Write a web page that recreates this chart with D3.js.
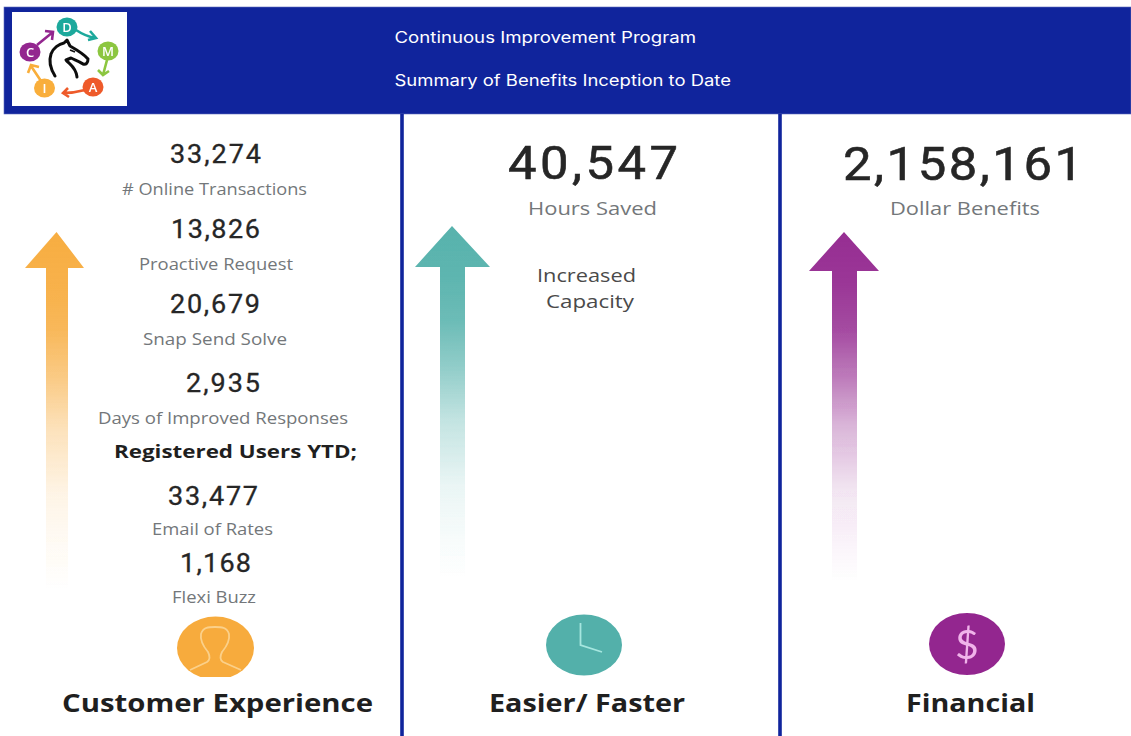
<!DOCTYPE html>
<html>
<head>
<meta charset="utf-8">
<script src="https://cdn.jsdelivr.net/npm/d3@7"></script>
<style>
  html, body { margin: 0; padding: 0; background: #fff; overflow: hidden; }
  text { font-family: "Open Sans", sans-serif; }
  .num { font-family: Roboto, sans-serif; font-weight: 400; fill: #262626; stroke: #262626; stroke-width: 0.35px; }
  .lbl { fill: #73777a; }
  .head { font-family: Inter, sans-serif; fill: #fff; }
  .pillar { font-weight: 700; fill: #1f1f1f; }
</style>
</head>
<body>
<svg id="chart" width="1131" height="736"></svg>
<script>
// Values
const titleLines = ['Continuous Improvement Program', 'Summary of Benefits Inception to Date'];
const customerValues = [33274, 13826, 20679, 2935, 33477, 1168];
const customerLabels = ['# Online Transactions', 'Proactive Request', 'Snap Send Solve', 'Days of Improved Responses', 'Email of Rates', 'Flexi Buzz'];
const registeredLabel = 'Registered Users YTD;';
const hoursValue = 40547;
const hoursLabel = 'Hours Saved';
const capacityLines = ['Increased', 'Capacity'];
const dollarValue = 2158161;
const dollarLabel = 'Dollar Benefits';
const pillars = ['Customer Experience', 'Easier/ Faster', 'Financial'];
const logoLetters = ['D', 'M', 'A', 'I', 'C'];

const NAVY = '#10249c';
const ORANGE = '#f7ab3c', TEAL = '#52b0aa', PURPLE = '#93288f';
const fmt = d3.format(',');
const svg = d3.select('#chart');
const defs = svg.append('defs');

defs.append('filter').attr('id', 'soft').append('feGaussianBlur').attr('stdDeviation', 0.5);

// Places a text so it spans x0..x1; the reference is stretched horizontally
function spanText(cls, str, x0, x1, y, size) {
  return svg.append('text').attr('class', cls)
    .attr('x', x0).attr('y', y).style('font-size', size + 'px')
    .attr('textLength', x1 - x0).attr('lengthAdjust', 'spacingAndGlyphs')
    .text(str);
}

// Big numbers: glyphs widened a little, the rest of the span goes to letter gaps
function numText(str, x0, x1, y, size, weight) {
  const widen = 1.08;
  return svg.append('text').attr('class', 'num')
    .attr('transform', `translate(${x0},${y}) scale(${widen},1)`)
    .style('font-size', size + 'px').style('stroke-width', weight + 'px')
    .attr('textLength', (x1 - x0) / widen).attr('lengthAdjust', 'spacing')
    .text(str);
}

// Header band and panel dividers
svg.append('rect').attr('x', 4).attr('y', 7).attr('width', 1127).attr('height', 107)
  .attr('fill', NAVY).attr('stroke', '#5f6cbd').attr('stroke-width', 0.6);
[402, 780].forEach(x => {
  svg.append('line').attr('x1', x).attr('x2', x).attr('y1', 114).attr('y2', 736)
    .attr('stroke', NAVY).attr('stroke-width', 3.6);
});

spanText('head', titleLines[0], 394.5, 696, 43, 15.5);
spanText('head', titleLines[1], 394.5, 731, 86, 15.5);

// Logo
const logo = svg.append('g');
logo.append('rect').attr('x', 12).attr('y', 12).attr('width', 115).attr('height', 94).attr('fill', '#fff');
const logoInk = logo.append('g').attr('filter', 'url(#soft)');
const logoColors = ['#1fa99c', '#8cc63f', '#ee5a2a', '#f9ae3a', '#93288f'];
const logoX = [67, 108, 93, 44.5, 30];
const logoY = [27, 51, 87, 88, 52];
const logoArrows = [
  'M76,30 Q85,36 95,38 M90,31 L96,38 L88,40',
  'M107,60 L103,75 M98,70 L103,75 L109,71',
  'M85,90 Q74,93 63,93 M68,88 L63,93 L69,97',
  'M41,81 L31,66 M28,73 L31,65 L39,67',
  'M37,45 L53,32 M45,31 L53,32 L52,40'
];
logoArrows.forEach((d, i) => {
  logoInk.append('path').attr('d', d).attr('fill', 'none')
    .attr('stroke', logoColors[i]).attr('stroke-width', 2.6);
});
logoLetters.forEach((l, i) => {
  logoInk.append('ellipse').attr('cx', logoX[i]).attr('cy', logoY[i]).attr('rx', 10.5).attr('ry', 9.5).attr('fill', logoColors[i]);
  logoInk.append('text').attr('x', logoX[i]).attr('y', logoY[i] + 4.5).attr('text-anchor', 'middle')
    .attr('font-size', 13).attr('font-weight', 600).attr('fill', '#fff').text(l);
});
// Horse head outline
logoInk.append('path')
  .attr('d', 'M55,76 C50,68 49,60 51,54 C53,48 59,44 64,43 L67,40 L70,46 C77,50 84,54 88,59 C88,63 86,65 83,64 C79,61 75,60 71,58 L66,60 C69,64 76,67 77,77')
  .attr('fill', 'none').attr('stroke', '#111').attr('stroke-width', 3).attr('stroke-linejoin', 'round').attr('stroke-linecap', 'round');
logoInk.append('path').attr('d', 'M70,50 L75,52').attr('stroke', '#111').attr('stroke-width', 1.6);

// Fading up arrows: head spans headL..headR, shaft spans shaftL..shaftR
function upArrow(id, color, tipX, tipY, baseY, headL, headR, shaftL, shaftR, endY) {
  const g = defs.append('linearGradient').attr('id', id).attr('gradientUnits', 'userSpaceOnUse')
    .attr('x1', 0).attr('x2', 0).attr('y1', tipY).attr('y2', endY);
  [[0, 0.97], [0.15, 0.93], [0.27, 0.85], [0.41, 0.62], [0.55, 0.35], [0.74, 0.12], [0.9, 0.04], [1, 0]].forEach(s => {
    g.append('stop').attr('offset', s[0]).attr('stop-color', color).attr('stop-opacity', s[1]);
  });
  const p = d3.path();
  p.moveTo(tipX, tipY);
  p.lineTo(headR, baseY);
  p.lineTo(shaftR, baseY);
  p.lineTo(shaftR, endY);
  p.lineTo(shaftL, endY);
  p.lineTo(shaftL, baseY);
  p.lineTo(headL, baseY);
  p.closePath();
  svg.append('path').attr('d', p.toString()).attr('fill', `url(#${id})`).attr('filter', 'url(#soft)');
}
upArrow('fadeOrange', ORANGE, 56.5, 232, 268, 25, 84, 46, 68, 590);
upArrow('fadeTeal', TEAL, 452, 226, 267, 415, 490, 440, 465, 578);
upArrow('fadePurple', PURPLE, 844, 232, 271, 809, 879, 832, 857, 582);

// Left panel
const customerNumX = [[170, 261], [171, 260], [170, 260], [186, 260], [168, 258], [180, 251]];
const customerNumY = [163, 238, 313, 392, 505, 572];
const customerLblX = [[122, 307], [139, 293], [143, 287], [98, 348], [152, 273], [172, 256]];
const customerLblY = [194.5, 269.5, 344.5, 424, 535, 603];
customerValues.forEach((v, i) => {
  numText(fmt(v), customerNumX[i][0], customerNumX[i][1], customerNumY[i], 25, 0.3);
  spanText('lbl', customerLabels[i], customerLblX[i][0], customerLblX[i][1], customerLblY[i], 16);
});
spanText('pillar', registeredLabel, 114, 357, 458, 18.5);

// Middle panel
numText(fmt(hoursValue), 508, 678, 179, 47, 0.6);
spanText('lbl', hoursLabel, 528, 657, 215, 19);
spanText('cap', capacityLines[0], 537, 636, 282, 19).attr('fill', '#4a4a4a');
spanText('cap', capacityLines[1], 546, 634, 308, 19).attr('fill', '#4a4a4a');

// Right panel
numText(fmt(dollarValue), 843, 1083, 180, 47, 0.6);
spanText('lbl', dollarLabel, 890, 1040, 215, 19);

// Bottom icons
const userIcon = svg.append('g').attr('filter', 'url(#soft)');
defs.append('clipPath').attr('id', 'userClip').append('rect').attr('x', 170).attr('y', 610).attr('width', 90).attr('height', 67);
userIcon.append('ellipse').attr('cx', 215.5).attr('cy', 648).attr('rx', 38.5).attr('ry', 31.5)
  .attr('fill', ORANGE).attr('clip-path', 'url(#userClip)');
userIcon.append('path')
  .attr('d', 'M190,670 L207,662 C210,660 210,656 208,652 C203,646 200,640 201,634 C203,627 209,627 215,627 C221,627 227,627 229,634 C230,640 227,646 222,652 C220,656 220,660 223,662 L241,670')
  .attr('fill', 'none').attr('stroke', '#fbd08a').attr('stroke-width', 1.8).attr('clip-path', 'url(#userClip)');

const clockIcon = svg.append('g').attr('filter', 'url(#soft)');
clockIcon.append('ellipse').attr('cx', 584).attr('cy', 645).attr('rx', 38).attr('ry', 30.5).attr('fill', TEAL);
clockIcon.append('path').attr('d', 'M580.5,623 L580.5,645 L602,652').attr('fill', 'none')
  .attr('stroke', '#a6e6df').attr('stroke-width', 1.8);

const dollarIcon = svg.append('g').attr('filter', 'url(#soft)');
dollarIcon.append('ellipse').attr('cx', 967).attr('cy', 644).attr('rx', 38).attr('ry', 31).attr('fill', PURPLE);
dollarIcon.append('text').attr('x', 967).attr('y', 659).attr('text-anchor', 'middle').attr('font-size', 41)
  .style('font-family', 'Lato').style('font-weight', 400).attr('fill', '#f0b3ea').text('$');

// Pillar titles
const pillarX = [[62, 373], [489, 685], [906, 1035]];
pillars.forEach((t, i) => {
  spanText('pillar', t, pillarX[i][0], pillarX[i][1], 712, 25);
});
</script>
</body>
</html>
